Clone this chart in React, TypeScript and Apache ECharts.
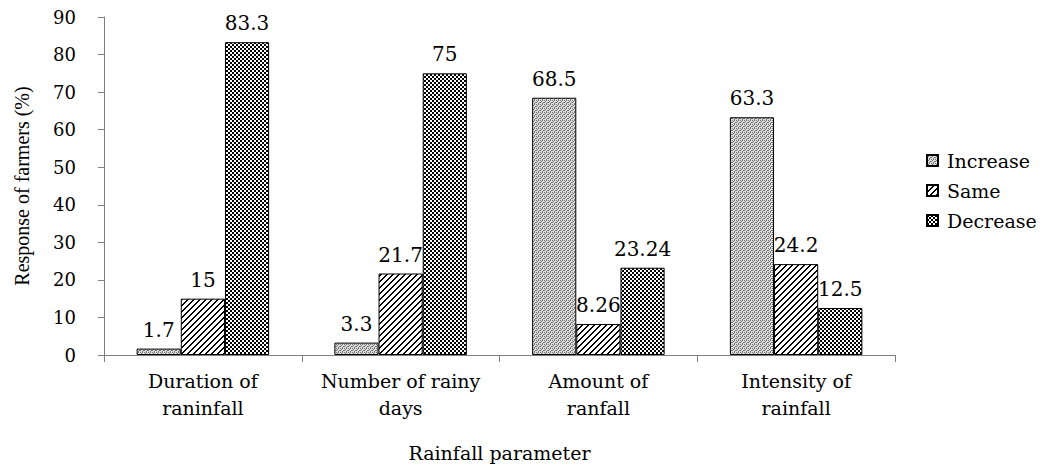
import React, { useEffect, useRef } from "react";
import * as echarts from "echarts";

const categories = [
  "Duration of\nraninfall",
  "Number of rainy\ndays",
  "Amount of\nranfall",
  "Intensity of\nrainfall",
];
const increase = [1.7, 3.3, 68.5, 63.3];
const same = [15, 21.7, 8.26, 24.2];
const decrease = [83.3, 75, 23.24, 12.5];
const seriesNames = ["Increase", "Same", "Decrease"];

// Small bitmap tiles used as fill patterns for the bars and legend swatches.
function makeTile(size: number, draw: (x: number, y: number) => string | null) {
  const c = document.createElement("canvas");
  c.width = size;
  c.height = size;
  const ctx = c.getContext("2d")!;
  ctx.fillStyle = "#ffffff";
  ctx.fillRect(0, 0, size, size);
  for (let y = 0; y < size; y++) {
    for (let x = 0; x < size; x++) {
      const col = draw(x, y);
      if (col) {
        ctx.fillStyle = col;
        ctx.fillRect(x, y, 1, 1);
      }
    }
  }
  return c;
}

const stippleMap = [
  [1, 0, 1, 0],
  [0, 1, 0, 0],
  [1, 0, 0, 1],
  [0, 0, 1, 0],
];

function pattern(c: HTMLCanvasElement) {
  return { image: c, repeat: "repeat", imageWidth: c.width, imageHeight: c.height } as any;
}

export default function App() {
  const ref = useRef<HTMLDivElement>(null);
  useEffect(() => {
    if (!ref.current) return;
    const chart = echarts.init(ref.current, null, { renderer: "svg" });

    const stipple = makeTile(4, (x, y) => (stippleMap[y][x] ? "#707070" : "#e0e0e0"));
    const hatch = makeTile(6, (x, y) => ((x + y) % 6 < 2 ? "#000000" : null));
    const checker = makeTile(4, (x, y) =>
      (Math.floor(x / 2) + Math.floor(y / 2)) % 2 === 0 ? "#000000" : null
    );
    const fills = [pattern(stipple), pattern(hatch), pattern(checker)];
    const values = [increase, same, decrease];

    const serif = "DejaVu Serif";

    chart.setOption({
      animation: false,
      backgroundColor: "#ffffff",
      textStyle: { fontFamily: serif, color: "#000" },
      grid: { left: 104, right: 161, top: 17, bottom: 116 },
      legend: {
        orient: "vertical",
        left: 921,
        top: 146,
        itemWidth: 11,
        itemHeight: 11,
        itemGap: 11,
        icon: "rect",
        data: seriesNames,
        textStyle: { fontFamily: serif, fontSize: 19, color: "#000", padding: [0, 0, 0, 4] },
      },
      xAxis: {
        type: "category",
        data: categories,
        name: "Rainfall parameter",
        nameLocation: "middle",
        nameGap: 88,
        nameTextStyle: { fontFamily: serif, fontSize: 19, color: "#000" },
        axisLine: { lineStyle: { color: "#808080", width: 1 } },
        axisTick: { show: true, alignWithLabel: false, length: 7, lineStyle: { color: "#808080" } },
        axisLabel: {
          fontFamily: serif,
          fontSize: 19,
          color: "#000",
          margin: 12,
          lineHeight: 27,
          interval: 0,
        },
      },
      yAxis: {
        type: "value",
        min: 0,
        max: 90,
        interval: 10,
        name: "Response of farmers (%)",
        nameLocation: "middle",
        nameGap: 72,
        nameTextStyle: { fontFamily: "Liberation Serif", fontSize: 20, color: "#000" },
        axisLine: { show: true, lineStyle: { color: "#808080", width: 1 } },
        axisTick: { show: true, length: 6, lineStyle: { color: "#808080" } },
        splitLine: { show: false },
        axisLabel: { fontFamily: serif, fontSize: 18, color: "#000", margin: 28 },
      },
      series: seriesNames.map((name, i) => ({
        name,
        type: "bar",
        data: values[i],
        barGap: "0%",
        barCategoryGap: "33%",
        itemStyle: { color: fills[i], borderColor: "#000", borderWidth: 1 },
        label: {
          show: true,
          position: "top",
          distance: 9,
          fontFamily: serif,
          fontSize: 20,
          color: "#000",
        },
      })),
    });
    return () => chart.dispose();
  }, []);
  return (
    <div
      ref={ref}
      style={{ position: "fixed", left: 0, top: 0, width: 1056, height: 471 }}
    />
  );
}
